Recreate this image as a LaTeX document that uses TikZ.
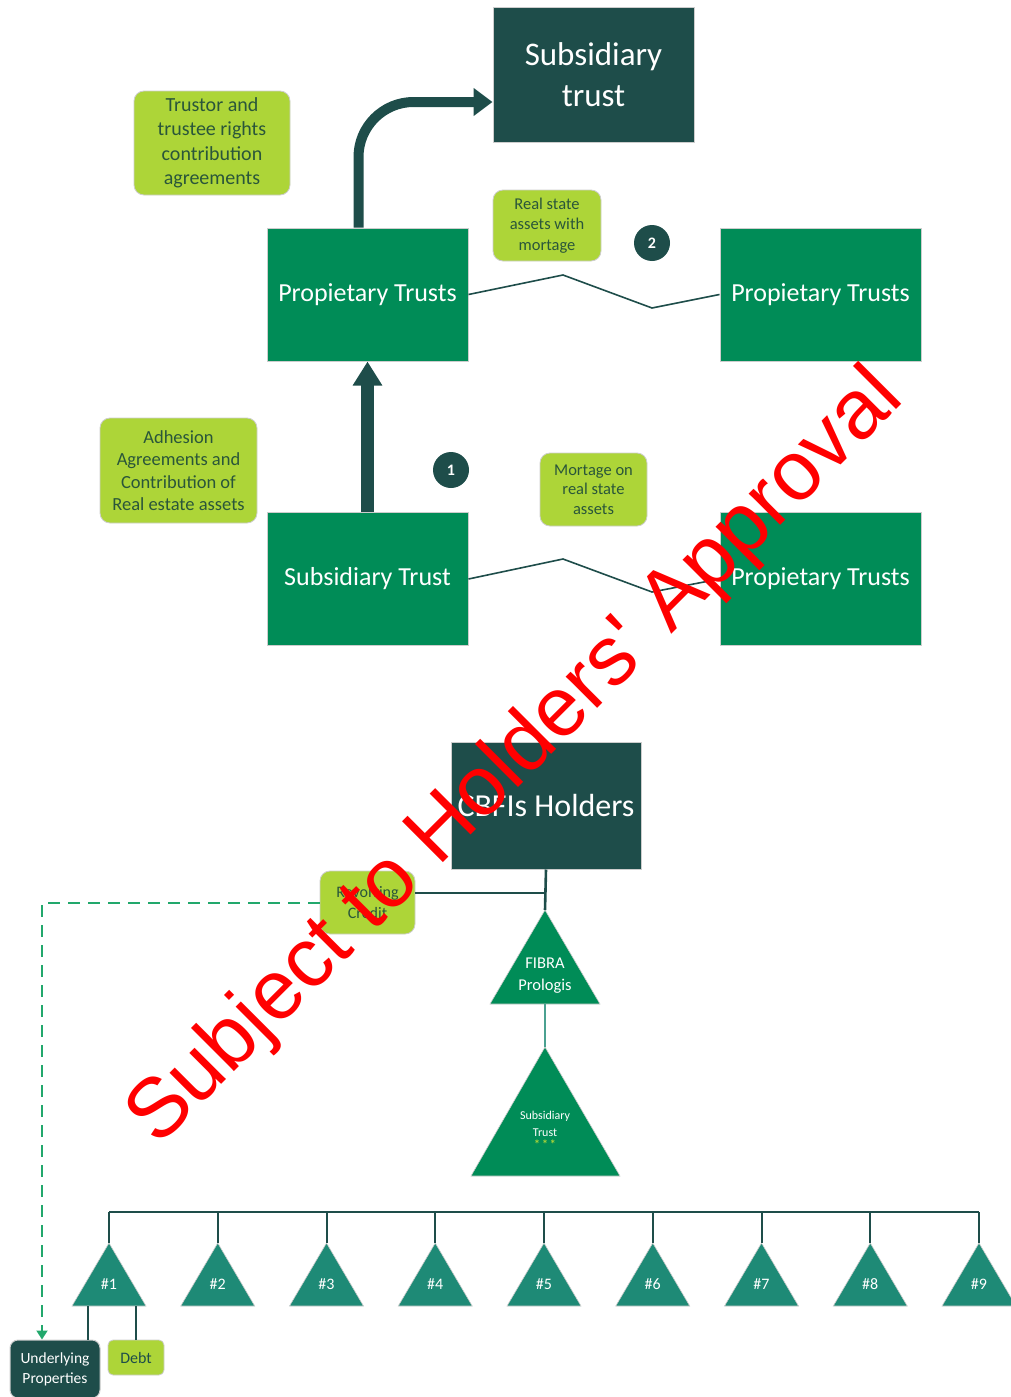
\documentclass[tikz,border=0pt]{standalone}
\usepackage{fontspec}
\setmainfont{Carlito}
\newfontfamily\wmfont{Liberation Sans}
\usetikzlibrary{arrows.meta}

\definecolor{dkteal}{RGB}{30,77,74}
\definecolor{boxgreen}{RGB}{0,140,87}
\definecolor{lime}{RGB}{173,213,56}
\definecolor{limetext}{RGB}{42,86,58}
\definecolor{trigreen}{RGB}{30,138,118}
\definecolor{dashgreen}{RGB}{34,168,108}
\definecolor{edgegray}{RGB}{205,205,205}

\begin{document}
\begin{tikzpicture}[x=1pt,y=-1pt,
  dkbox/.style={fill=dkteal, draw=edgegray, line width=1pt, text=white, align=center, inner sep=0pt},
  grbox/.style={fill=boxgreen, draw=edgegray, line width=1pt, text=white, inner sep=0pt,
    minimum width=201pt, minimum height=133pt, font=\fontsize{26}{31}\selectfont},
  limebox/.style={fill=lime, draw=edgegray, line width=0.8pt, rounded corners=10pt,
    text=limetext, align=center, inner sep=0pt},
  badge/.style={circle, fill=dkteal, text=white, minimum size=36pt, inner sep=0pt,
    font=\fontsize{16}{16}\selectfont\bfseries},
  link/.style={draw=dkteal, line width=1.6pt},
  bar/.style={draw=dkteal, line width=2.6pt},
  tri/.style={fill=trigreen, draw=edgegray, line width=0.6pt},
  tritext/.style={text=white, align=center, inner sep=0pt}]

% define page frame
\useasboundingbox (0,0) rectangle (1010,1397);

% top part: trusts
\node[dkbox, minimum width=201pt, minimum height=134pt, font=\fontsize{33}{41}\selectfont] (top) at (593.5,75) {Subsidiary\\trust};
\node[limebox, minimum width=156pt, minimum height=104pt, font=\fontsize{20}{24.5}\selectfont] (tra) at (212,143) {Trustor and\\trustee rights\\contribution\\agreements};
\node[grbox] (prop1) at (367.5,294.5) {Propietary Trusts};
\node[grbox] (prop2) at (820.5,294.5) {Propietary Trusts};
\node[limebox, minimum width=108pt, minimum height=71pt, font=\fontsize{16.5}{20.5}\selectfont] (rsa) at (547,225.5) {Real state\\assets with\\mortage};
\node[badge] (n2) at (652,243) {2};

\node[limebox, minimum width=157pt, minimum height=105pt, font=\fontsize{18.5}{22.4}\selectfont] (adh) at (178.5,470.5) {Adhesion\\Agreements and\\Contribution of\\Real estate assets};
\node[badge] (n1) at (451,470) {1};
\node[limebox, minimum width=107pt, minimum height=73pt, font=\fontsize{16.5}{19.5}\selectfont] (mrt) at (593.5,489.5) {Mortage on\\real state\\assets};
\node[grbox] (sub) at (367.5,579) {Subsidiary Trust};
\node[grbox] (prop3) at (820.5,579) {Propietary Trusts};

% set up coordinates of the zigzags
\coordinate (zigA1) at (563,275);
\coordinate (zigA2) at (652,308);
\coordinate (zigB1) at (563,559);
\coordinate (zigB2) at (652,592);

% draw links of the top part
\draw[dkteal, line width=10pt, rounded corners=55pt, -{Triangle[width=27pt,length=19pt]}] ([xshift=-9pt]prop1.north) |- ([yshift=-27pt]top.west);
\draw[dkteal, line width=13pt, -{Triangle[width=28pt,length=24pt]}] (sub.north) -- (prop1.south);
\draw[link] (prop1.east) -- (zigA1) -- (zigA2) -- (prop2.west);
\draw[link] (sub.east) -- (zigB1) -- (zigB2) -- (prop3.west);

% bottom part: structure
\node[dkbox, minimum width=190pt, minimum height=127pt, font=\fontsize{32}{38}\selectfont] (cbfi) at (546,805.5) {CBFIs Holders};
\node[limebox, minimum width=95pt, minimum height=63pt, font=\fontsize{16}{21}\selectfont] (rev) at (367.5,902.5) {Revolving\\Credit};
\coordinate (jn) at (545,893);

\coordinate (fibtop) at (545,910);
\coordinate (fibbot) at (545,1004);
\filldraw[tri, fill=boxgreen] (fibtop) -- (600,1004) -- (490,1004) -- cycle;
\node[tritext, font=\fontsize{16.5}{22}\selectfont] (fibra) at (545,976) {FIBRA\\Prologis};

\coordinate (sttop) at (545,1047);
\filldraw[tri, fill=boxgreen] (sttop) -- (620,1176) -- (471,1176) -- cycle;
\node[tritext, font=\fontsize{12}{17}\selectfont] (st) at (545,1130) {Subsidiary\\Trust\\[-5pt]{\color{lime}\fontsize{12}{12}\selectfont\bfseries *\,*\,*}};

\draw[bar] (cbfi.south) -- (fibtop);
\draw[link, line width=2pt] (rev.east |- jn) -- (jn);
\draw[draw=trigreen!80, line width=2.4pt] (fibbot) -- (sttop);

% draw the nine trusts
\coordinate (bus) at (545,1212);
\foreach \i in {1,...,9} {
  \pgfmathsetmacro\tx{109+108.75*(\i-1)}
  \filldraw[tri] (\tx,1243) -- (\tx+37,1306) -- (\tx-37,1306) -- cycle;
  \coordinate (apex\i) at (\tx,1243);
  \node[tritext, font=\fontsize{16}{16}\selectfont] (t\i) at (\tx,1284) {\#\i};
  \draw[link, line width=2pt] (apex\i) -- (apex\i |- bus);
}
\draw[bar] (apex1 |- bus) -- (apex9 |- bus);
\coordinate (base1) at (109,1306);

\node[dkbox, rounded corners=8pt, minimum width=90pt, minimum height=58pt, font=\fontsize{15.5}{20}\selectfont] (und) at (55,1369) {Underlying\\Properties};
\node[limebox, rounded corners=5pt, minimum width=56pt, minimum height=35pt, text=dkteal, font=\fontsize{16}{16}\selectfont] (debt) at (136,1357.5) {Debt};

\draw[link, line width=2pt] ([xshift=33pt]und.north) -- ([xshift=33pt]und.north |- base1);
\draw[link, line width=2pt] (debt.north) -- (debt.north |- base1);
\draw[dashgreen, line width=2pt, dash pattern=on 12pt off 8pt, -{Triangle[width=11pt,length=9pt]}] (rev.west) -| ([xshift=-13pt]und.north);

% watermark
\node[text=red, font=\wmfont\fontsize{84}{84}\selectfont, rotate=45, anchor=base, inner sep=0pt] (wm) at (532,774) {Subject to Holders' Approval};

\end{tikzpicture}
\end{document}
